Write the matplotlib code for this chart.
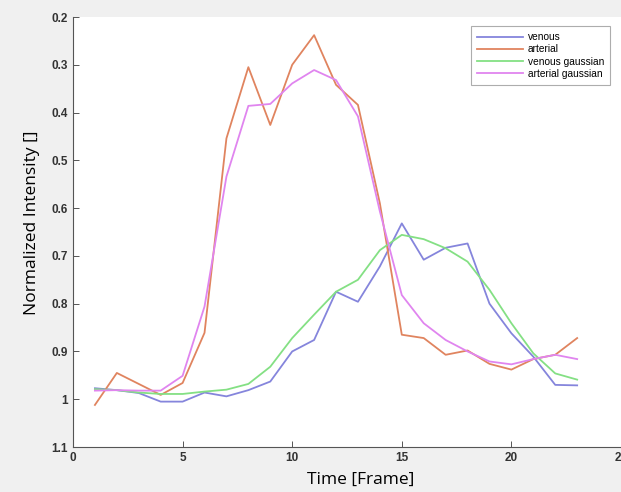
import numpy as np
import matplotlib
matplotlib.use("Agg")
import matplotlib.pyplot as plt

# --- data ---
frames = list(range(1, 24))
venous = [0.977, 0.981, 0.987, 1.005, 1.005, 0.986, 0.994, 0.981, 0.963, 0.900,
          0.876, 0.775, 0.796, 0.722, 0.632, 0.708, 0.683, 0.674, 0.800, 0.862,
          0.911, 0.970, 0.971]
arterial = [1.012, 0.945, 0.968, 0.991, 0.966, 0.861, 0.454, 0.305, 0.426, 0.300,
            0.238, 0.342, 0.384, 0.590, 0.865, 0.872, 0.907, 0.898, 0.926, 0.938,
            0.916, 0.907, 0.872]
venous_gauss = [0.979, 0.981, 0.986, 0.989, 0.989, 0.984, 0.980, 0.968, 0.932, 0.872,
                0.823, 0.775, 0.750, 0.688, 0.656, 0.665, 0.684, 0.712, 0.771, 0.841,
                0.904, 0.946, 0.959]
arterial_gauss = [0.982, 0.981, 0.982, 0.982, 0.951, 0.806, 0.534, 0.386, 0.382, 0.339,
                  0.311, 0.332, 0.408, 0.607, 0.782, 0.841, 0.876, 0.900, 0.921, 0.927,
                  0.916, 0.907, 0.916]

series = [
    (venous, "venous", "#8585dc"),
    (arterial, "arterial", "#e0845f"),
    (venous_gauss, "venous gaussian", "#84e084"),
    (arterial_gauss, "arterial gaussian", "#e085ef"),
]

fig = plt.figure(figsize=(6.21, 4.92), dpi=100, facecolor="#f0f0f0")
ax = fig.add_axes([73 / 621, 1 - 447 / 492, 548 / 621, 430 / 492])
ax.set_facecolor("white")

for vals, name, col in series:
    ax.plot(frames, vals, color=col, lw=1.3, label=name)

ax.set_xlim(0, 25)
ax.set_ylim(1.1, 0.2)
ax.set_xticks([0, 5, 10, 15, 20, 25])
ax.set_yticks([0.2, 0.3, 0.4, 0.5, 0.6, 0.7, 0.8, 0.9, 1.0, 1.1])
ax.set_yticklabels(["0.2", "0.3", "0.4", "0.5", "0.6", "0.7", "0.8", "0.9", "1", "1.1"])

for s in ["top", "right"]:
    ax.spines[s].set_visible(False)
for s in ["left", "bottom"]:
    ax.spines[s].set_color("#555555")
    ax.spines[s].set_linewidth(0.8)

ax.tick_params(direction="in", length=4, width=0.7, color="#555555",
               labelsize=8.5, labelcolor="#333333")
for lab in ax.get_xticklabels() + ax.get_yticklabels():
    lab.set_family("Liberation Sans")
    lab.set_fontweight("bold")

ax.set_xlabel("Time [Frame]", family="Open Sans", fontsize=12.5)
ax.set_ylabel("Normalized Intensity []", family="Open Sans", fontsize=12.5)
ax.xaxis.set_label_coords(0.525, -0.058)
ax.yaxis.set_label_coords(-0.061, 0.522)

leg = ax.legend(loc="upper right", bbox_to_anchor=(0.99, 0.99),
                prop={"family": "Liberation Sans", "size": 7.3},
                frameon=True, fancybox=False, edgecolor="#999999",
                handlelength=4.5, handletextpad=0.5, borderpad=0.6,
                labelspacing=0.2)
leg.get_frame().set_linewidth(0.8)

fig.savefig("out.png", dpi=100, facecolor=fig.get_facecolor())
